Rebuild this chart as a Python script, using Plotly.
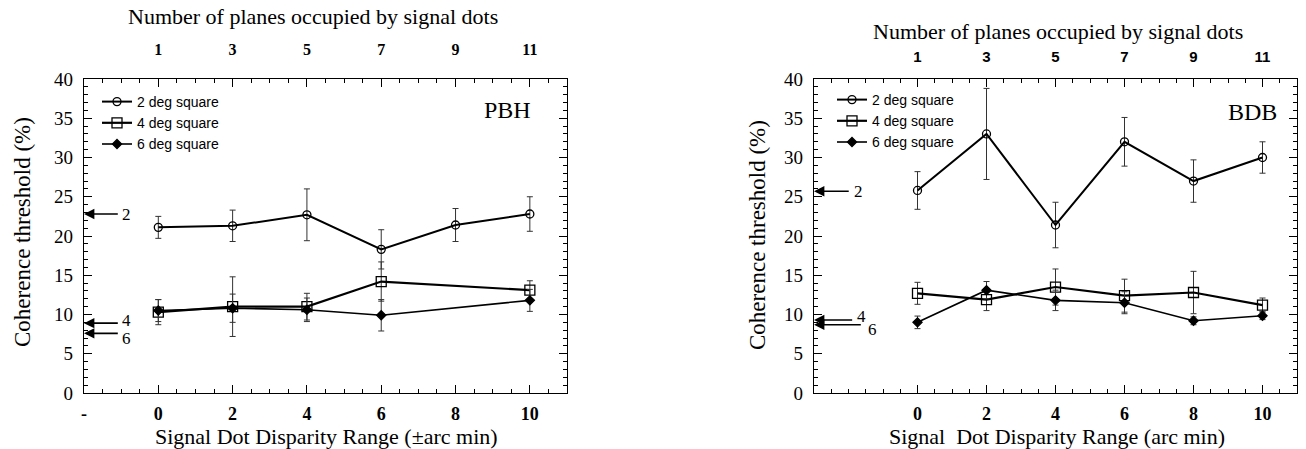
import plotly.graph_objects as go

# ---------------- data ----------------
disparity = [0, 2, 4, 6, 8, 10]
planes = [1, 3, 5, 7, 9, 11]
series_names = ["2 deg square", "4 deg square", "6 deg square"]

pbh_2deg = [21.1, 21.3, 22.7, 18.3, 21.4, 22.8]
pbh_2deg_err = [1.4, 2.0, 3.3, 2.5, 2.1, 2.2]
pbh_4deg = [10.3, 11.0, 11.0, 14.2, None, 13.1]
pbh_4deg_err = [1.6, 3.8, 1.7, 2.5, 0, 1.2]
pbh_6deg = [10.5, 10.8, 10.6, 9.9, None, 11.8]
pbh_6deg_err = [1.4, 1.8, 1.5, 2.0, 0, 1.4]

bdb_2deg = [25.8, 33.0, 21.4, 32.0, 27.0, 30.0]
bdb_2deg_err = [2.4, 5.8, 2.9, 3.1, 2.7, 2.0]
bdb_4deg = [12.7, 11.9, 13.5, 12.4, 12.8, 11.2]
bdb_4deg_err = [1.4, 1.4, 2.3, 2.1, 2.7, 0.9]
bdb_6deg = [9.0, 13.1, 11.8, 11.5, 9.2, 9.85]
bdb_6deg_err = [0.8, 1.1, 1.3, 1.4, 0.5, 0.5]

baseline_labels = ["2", "4", "6"]
pbh_baselines = [22.8, 8.9, 7.6]
bdb_baselines = [25.7, 9.3, 8.7]

SERIF = "Liberation Serif"
SANS = "Liberation Sans"
W, H = 1306, 449

fig = go.Figure()

styles = [
    dict(symbol="circle-open", size=8, lw=2.0),
    dict(symbol="square-open", size=10, lw=2.2),
    dict(symbol="diamond", size=7, lw=1.6),
]

def add_series(ys, errs, xa, ya, legend):
    for name, y, e, st in zip(series_names, ys, errs, styles):
        fig.add_trace(go.Scatter(
            x=disparity, y=y, name=name, mode="lines+markers",
            connectgaps=True, xaxis=xa, yaxis=ya, legend=legend,
            line=dict(color="black", width=st["lw"]),
            marker=dict(symbol=st["symbol"], size=st["size"], color="black",
                        line=dict(color="black", width=1.3)),
            error_y=dict(type="data", array=e, visible=True, color="#333333",
                         thickness=1, width=3),
        ))

add_series([pbh_2deg, pbh_4deg, pbh_6deg], [pbh_2deg_err, pbh_4deg_err, pbh_6deg_err],
           "x", "y", "legend")
add_series([bdb_2deg, bdb_4deg, bdb_6deg], [bdb_2deg_err, bdb_4deg_err, bdb_6deg_err],
           "x3", "y2", "legend2")

# invisible traces so the top axes are drawn
fig.add_trace(go.Scatter(x=disparity, y=pbh_2deg, xaxis="x2", yaxis="y", mode="markers",
                         marker=dict(opacity=0), showlegend=False, hoverinfo="skip"))
fig.add_trace(go.Scatter(x=disparity, y=bdb_2deg, xaxis="x4", yaxis="y2", mode="markers",
                         marker=dict(opacity=0), showlegend=False, hoverinfo="skip"))

def px_x(p):
    return p / W

def px_y(p):
    return 1 - p / H

ydom = [px_y(393), px_y(79)]
left_dom = [px_x(84), px_x(567)]
right_dom = [px_x(814), px_x(1297)]

yaxis_common = dict(
    range=[0, 40], dtick=5, tick0=0, ticks="inside", ticklen=8, tickwidth=1.2,
    tickcolor="black", showline=True, linecolor="black", linewidth=1.3,
    mirror="ticks", showgrid=False, zeroline=False, domain=ydom, automargin=False,
    tickfont=dict(family=SERIF, size=19, color="black"), ticklabelstandoff=6,
    minor=dict(dtick=1, ticks="inside", ticklen=4, tickcolor="black", showgrid=False),
)

def bottom_axis(rng, dom, anchor, first_label):
    tv = [rng[0]] + disparity
    tt = [first_label] + [str(d) for d in disparity]
    return dict(
        range=rng, domain=dom, anchor=anchor, tickvals=tv, ticktext=tt,
        ticks="inside", ticklen=8, tickwidth=1.2, tickcolor="black",
        showline=True, linecolor="black", linewidth=1.3, mirror="ticks",
        showgrid=False, zeroline=False, ticklabelstandoff=4, automargin=False,
        tickfont=dict(family=SERIF, size=18, color="black", weight="bold"),
        minor=dict(tick0=0, dtick=0.5, ticks="inside", ticklen=4, tickcolor="black",
                   showgrid=False),
    )

def top_axis(rng, dom, anchor, overlay, font, standoff):
    return dict(
        range=rng, domain=dom, anchor=anchor, overlaying=overlay, side="top",
        tickvals=disparity, ticktext=[str(p) for p in planes], ticks="",
        showline=False, showgrid=False, zeroline=False, ticklabelstandoff=standoff,
        automargin=False, tickfont=font,
    )

fig.update_layout(
    width=W, height=H, margin=dict(l=0, r=0, t=0, b=0, pad=0, autoexpand=False),
    paper_bgcolor="white", plot_bgcolor="white", showlegend=True,
    xaxis=bottom_axis([-2, 11], left_dom, "y", "-"),
    xaxis2=top_axis([-2, 11], left_dom, "y", "x",
                    dict(family=SERIF, size=16, color="black", weight="bold"), 20),
    xaxis3=bottom_axis([-3, 11], right_dom, "y2", ""),
    xaxis4=top_axis([-3, 11], right_dom, "y2", "x3",
                    dict(family=SANS, size=15, color="black", weight="bold"), 13),
    yaxis=dict(anchor="x", **yaxis_common),
    yaxis2=dict(anchor="x3", **yaxis_common),
    legend=dict(x=px_x(97), y=px_y(86), xanchor="left", yanchor="top",
                bgcolor="rgba(0,0,0,0)", tracegroupgap=0, itemwidth=30,
                font=dict(family=SANS, size=14, color="black")),
    legend2=dict(x=px_x(832), y=px_y(84), xanchor="left", yanchor="top",
                 bgcolor="rgba(0,0,0,0)", tracegroupgap=0, itemwidth=30,
                 font=dict(family=SANS, size=14, color="black")),
)

annotations = []

def text_ann(x, y, text, size, family=SERIF, angle=0, xref="paper", yref="paper",
             xanchor="center", yanchor="middle"):
    annotations.append(dict(x=x, y=y, xref=xref, yref=yref, text=text, showarrow=False,
                            textangle=angle, xanchor=xanchor, yanchor=yanchor,
                            font=dict(family=family, size=size, color="black")))

# axis titles
text_ann(px_x(313), px_y(16), "Number of planes occupied by signal dots", 22)
text_ann(px_x(1058), px_y(32), "Number of planes occupied by signal dots", 22)
text_ann(px_x(326), px_y(436), "Signal Dot Disparity Range (\u00b1arc min)", 22)
text_ann(px_x(1057), px_y(436), "Signal\u00a0 Dot Disparity Range (arc min)", 22)
text_ann(px_x(22), px_y(232), "Coherence threshold (%)", 23, angle=-90)
text_ann(px_x(757), px_y(235), "Coherence threshold (%)", 23, angle=-90)

# subject labels
text_ann(9.4, 36.0, "PBH", 24, xref="x", yref="y")
text_ann(9.7, 35.8, "BDB", 24, xref="x3", yref="y2")

# baseline arrows
def arrows(xr, yr, x0, tails, vals, label_dx, label_dy):
    for lab, v, t, dx, dy in zip(baseline_labels, vals, tails, label_dx, label_dy):
        annotations.append(dict(x=x0, y=v, ax=t, ay=v, xref=xr, yref=yr, axref=xr, ayref=yr,
                                text="", showarrow=True, arrowhead=2, arrowsize=1.3,
                                arrowwidth=1.6, arrowcolor="black", standoff=0))
        text_ann(t + dx, v + dy, lab, 17, xref=xr, yref=yr, xanchor="left")

arrows("x", "y", -2, [-1.05, -1.05, -1.05], pbh_baselines, [0.02, 0.02, 0.02], [0.0, 0.4, -0.7])
arrows("x3", "y2", -3, [-1.95, -1.85, -1.6], bdb_baselines, [0.05, 0.05, 0.1], [0.0, 0.4, -0.6])

fig.update_layout(annotations=annotations)

fig.write_html(
    "out.html",
    config={"displayModeBar": False},
    post_script="document.body.style.margin='0';document.body.style.overflow='hidden';",
)
